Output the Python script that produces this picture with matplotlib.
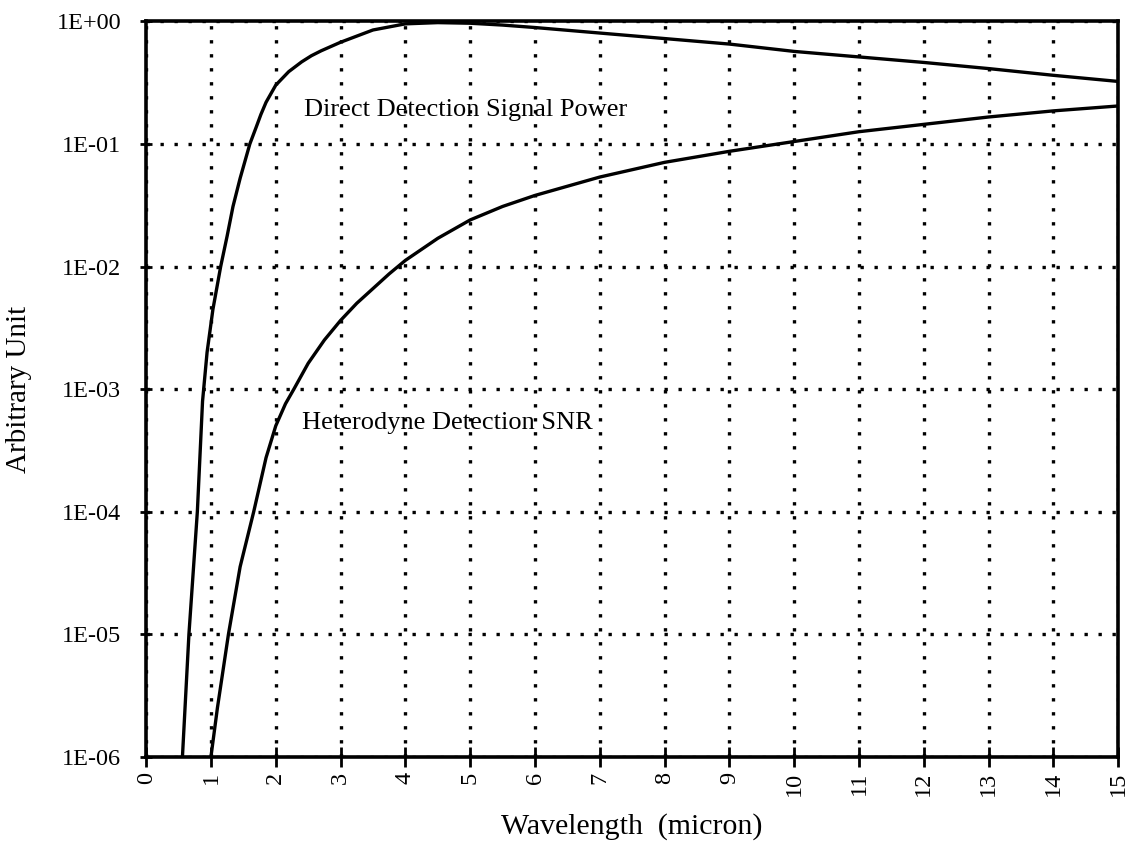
import numpy as np
import matplotlib
matplotlib.use('Agg')
import matplotlib.pyplot as plt
from matplotlib.ticker import FixedLocator, NullLocator

# values (x in micron, y as log10 of value)
direct_x = [0.56, 0.66, 0.79, 0.87, 0.94, 1.03, 1.15, 1.25, 1.34, 1.45, 1.6, 1.7, 1.77,
            1.85, 2.0, 2.2, 2.4, 2.55, 2.7, 3.0, 3.5, 4.0, 4.5, 5.0, 5.5, 6.0, 7.0,
            8.0, 9.0, 10.0, 11.0, 12.0, 13.0, 14.0, 15.0]
direct_log = [-6.0, -5.0, -4.0, -3.1, -2.7, -2.35, -2.0, -1.75, -1.51, -1.28, -1.0,
              -0.86, -0.76, -0.66, -0.52, -0.41, -0.33, -0.28, -0.24, -0.17, -0.07,
              -0.02, -0.01, -0.015, -0.03, -0.05, -0.095, -0.14, -0.185, -0.245,
              -0.29, -0.335, -0.385, -0.44, -0.49]

het_x = [1.0, 1.1, 1.27, 1.45, 1.66, 1.85, 2.0, 2.15, 2.28, 2.5, 2.75, 3.0, 3.25, 3.5,
         3.75, 4.0, 4.5, 5.0, 5.5, 6.0, 7.0, 8.0, 9.0, 10.0, 11.0, 12.0, 13.0, 14.0,
         15.0]
het_log = [-6.0, -5.6, -5.0, -4.45, -4.0, -3.56, -3.3, -3.12, -3.0, -2.79, -2.6,
           -2.44, -2.3, -2.18, -2.06, -1.95, -1.77, -1.62, -1.51, -1.42, -1.27,
           -1.15, -1.06, -0.98, -0.9, -0.84, -0.78, -0.73, -0.69]

x_ticks = list(range(0, 16))
y_ticks = [1e-6, 1e-5, 1e-4, 1e-3, 1e-2, 1e-1, 1e0]
y_labels = ['1E-06', '1E-05', '1E-04', '1E-03', '1E-02', '1E-01', '1E+00']

plt.rcParams['font.family'] = ['Liberation Serif', 'DejaVu Serif']

fig = plt.figure(figsize=(11.33, 8.56), dpi=100)
ax = fig.add_axes([0.129, 0.116, 0.858, 0.859])

ax.plot(direct_x, 10 ** np.array(direct_log), color='black', lw=2.4)
ax.plot(het_x, 10 ** np.array(het_log), color='black', lw=2.4)

ax.set_yscale('log')
ax.set_xlim(0, 15)
ax.set_ylim(1e-6, 1)
ax.xaxis.set_major_locator(FixedLocator(x_ticks))
ax.set_xticklabels([str(t) for t in x_ticks], rotation=90, fontsize=17.5)
ax.yaxis.set_major_locator(FixedLocator(y_ticks))
ax.yaxis.set_minor_locator(NullLocator())
ax.set_yticklabels(y_labels, fontsize=17.5)

ax.grid(True, which='major', color='black', linestyle=(0, (1, 3.2)), linewidth=2.4)
ax.tick_params(axis='x', direction='inout', length=14, width=2, pad=4)
ax.tick_params(axis='y', direction='inout', length=8, width=2, pad=14)
for s in ax.spines.values():
    s.set_linewidth(2.6)

ax.text(2.43, 10 ** -0.72, 'Direct Detection Signal Power', fontsize=19, va='center', ha='left')
ax.text(2.4, 10 ** -3.28, 'Heterodyne Detection SNR', fontsize=19, va='center', ha='left')

ax.set_xlabel('Wavelength  (micron)', fontsize=21.5, labelpad=12)
ax.set_ylabel('Arbitrary Unit', fontsize=21, labelpad=18)

fig.savefig('out.png', dpi=100)
